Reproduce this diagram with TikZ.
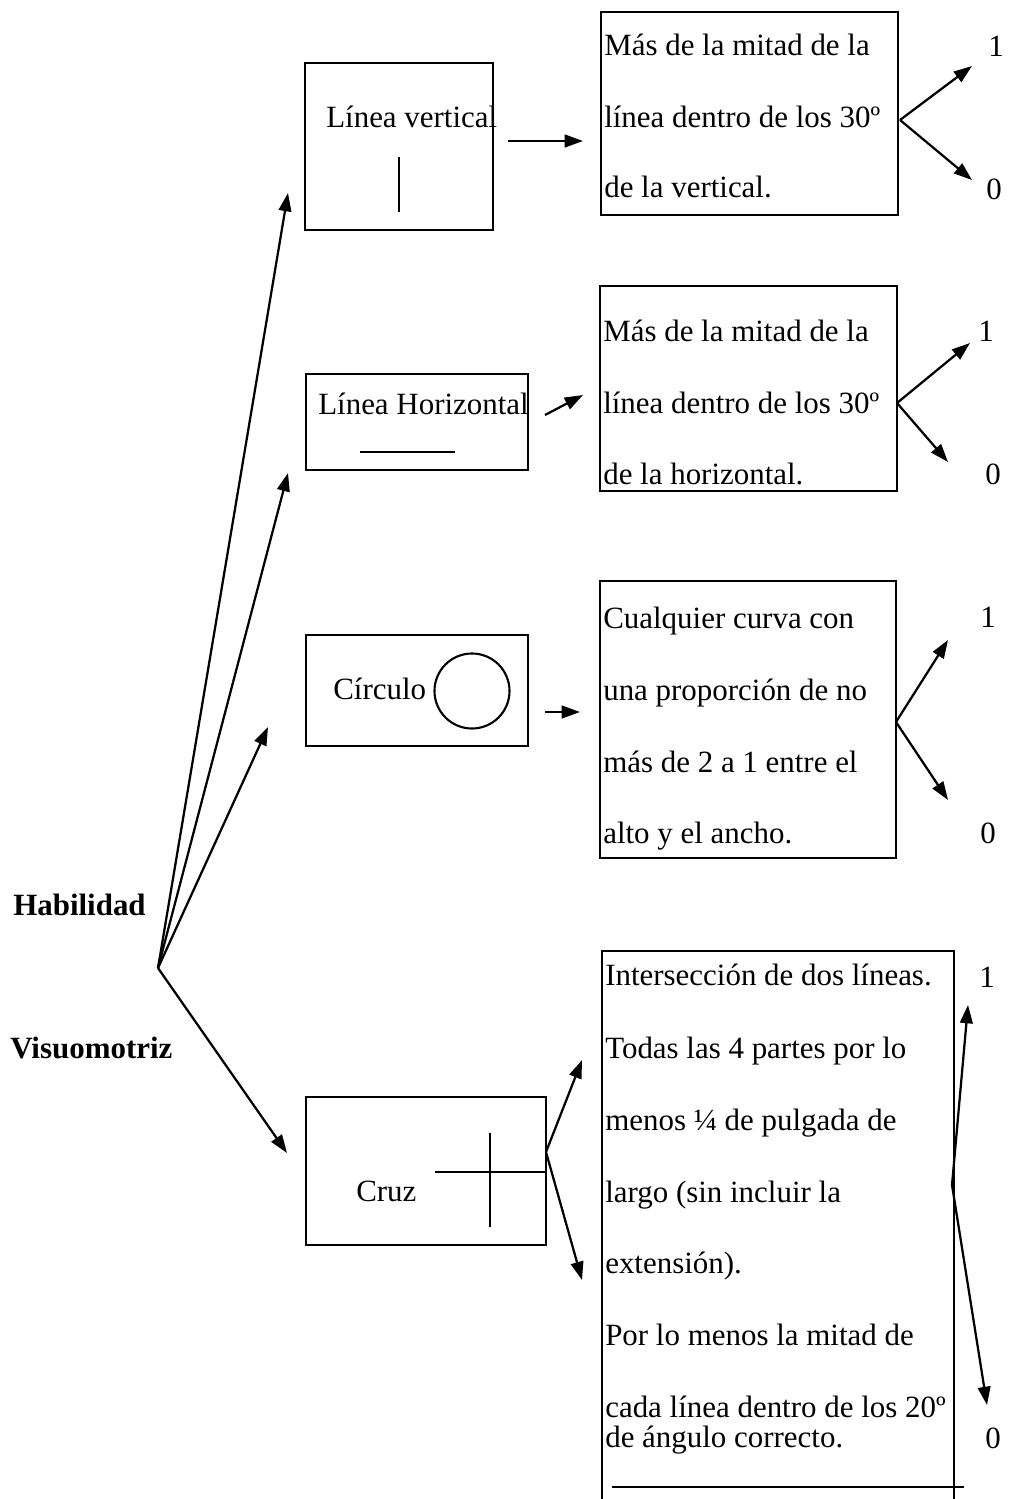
\documentclass[tikz,border=0pt]{standalone}
\usepackage{fontspec}
\setmainfont{Liberation Serif}
\usetikzlibrary{arrows.meta}
\tikzset{
  box/.style={draw,line width=1.5pt,inner sep=0pt},
  lbl/.style={anchor=base west,inner sep=0pt,font=\fontsize{22}{26}\selectfont},
  num/.style={inner sep=0pt,font=\fontsize{22}{26}\selectfont},
  arr/.style={line width=1.6pt,-{Triangle[length=13pt,width=9pt]}}
}

\begin{document}
\begin{tikzpicture}[x=0.025cm,y=-0.025cm]
\useasboundingbox (0,0) rectangle (1008,1499);
% root labels
\node[lbl,font=\fontsize{22}{26}\selectfont\bfseries] (hab) at (13,915) {Habilidad};
\node[lbl,font=\fontsize{22}{26}\selectfont\bfseries] (vis) at (10,1058) {Visuomotriz};
\coordinate (root) at (158,968);
\foreach \n/\p in {t1/{288,193},t2/{288,473},t3/{268,727},t4/{287,1153}}{\coordinate (\n) at (\p);\draw[arr] (root)--(\n);}
% stimulus boxes
\node[box,minimum width=4.7cm,minimum height=4.175cm] (vert) at (399,146.5) {};
\node[lbl] (vertl) at (326,127) {Línea vertical};
\draw[line width=1.5pt] (399,157)--(399,212);
\node[box,minimum width=5.55cm,minimum height=2.4cm] (hori) at (417,422) {};
\node[lbl] (horil) at (318,414) {Línea Horizontal};
\draw[line width=1.5pt] (360,452)--(455,452);
\node[box,minimum width=5.55cm,minimum height=2.775cm] (circ) at (417,690.5) {};
\node[lbl] (circl) at (333,699) {Círculo};
\node[draw,circle,line width=1.5pt,minimum size=1.875cm,inner sep=0pt] (ring) at (472,691) {};
\node[box,minimum width=6cm,minimum height=3.7cm] (cruz) at (426,1171) {};
\node[lbl] (cruzl) at (356,1201) {Cruz};
\draw[line width=1.5pt] (435,1172)--(546,1172) (490,1133)--(490,1227);
% criteria boxes
\node[box,minimum width=7.425cm,minimum height=5.075cm] (vertr) at (749.5,113.5) {};
\foreach \y/\t [count=\i] in {55/Más de la mitad de la,127/línea dentro de los 30º,197/de la vertical.}{\node[lbl] (vertr\i) at (604,\y) {\t};}
\node[box,minimum width=7.425cm,minimum height=5.125cm] (horir) at (748.5,388.5) {};
\foreach \y/\t [count=\i] in {341/Más de la mitad de la,413/línea dentro de los 30º,484/de la horizontal.}{\node[lbl] (horir\i) at (603,\y) {\t};}
\node[box,minimum width=7.4cm,minimum height=6.925cm] (circr) at (748,719.5) {};
\foreach \y/\t [count=\i] in {628/Cualquier curva con,700/una proporción de no,772/más de 2 a 1 entre el,843/alto y el ancho.}{\node[lbl] (circr\i) at (603,\y) {\t};}
\node[box,minimum width=8.8cm,minimum height=14.475cm] (cruzr) at (778,1240.5) {};
\foreach \y/\t [count=\i] in {985/Intersección de dos líneas.,1058/Todas las 4 partes por lo,1130/menos ¼ de pulgada de,1202/largo (sin incluir la,1273/extensión).,1345/Por lo menos la mitad de,1417/cada línea dentro de los 20º,1447/de ángulo correcto.}{\node[lbl] (cruzr\i) at (605,\y) {\t};}
\draw[line width=1.5pt] (612,1487)--(964,1487);
% stimulus to criteria
\foreach \n/\p/\q in {va/{508,141}/{583,141},ha/{545,415}/{583,395},ca/{545,712}/{580,712}}{\coordinate (\n0) at (\p);\coordinate (\n1) at (\q);\draw[arr] (\n0)--(\n1);}
\coordinate (xa) at (546,1152);\coordinate (xa1) at (582,1060);\coordinate (xa2) at (582,1280);
\draw[arr] (xa)--(xa1);\draw[arr] (xa)--(xa2);
% scores
\foreach \n/\p/\u/\d in {vb/{900,120}/{972,66}/{972,180},hb/{897,403}/{970,343}/{948,462},cb/{896,722}/{948,640}/{948,800},xb/{952,1185}/{968,1005}/{987,1405}}{\coordinate (\n) at (\p);\coordinate (\n1) at (\u);\coordinate (\n0) at (\d);\draw[arr] (\n)--(\n1);\draw[arr] (\n)--(\n0);}
\foreach \n/\p/\s in {s1/{996,46}/1,s2/{986,331}/1,s3/{988,617}/1,s4/{987,977}/1,z1/{994,189}/0,z2/{993,474}/0,z3/{988,833}/0,z4/{993,1438}/0}{\node[num] (\n) at (\p) {\s};}
\end{tikzpicture}
\end{document}
